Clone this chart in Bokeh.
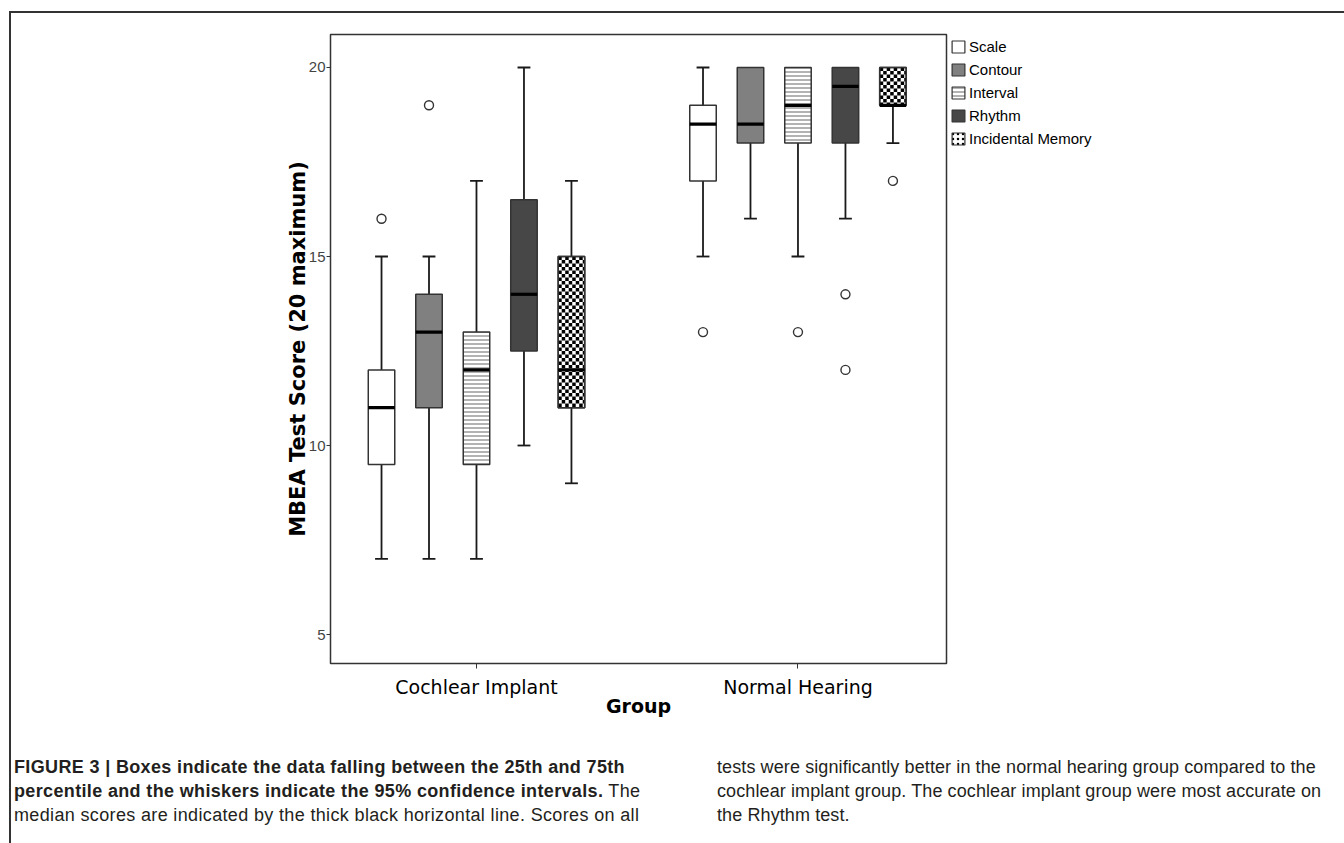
from bokeh.plotting import figure
from bokeh.layouts import column
from bokeh.models import (ColumnDataSource, Range1d, FixedTicker, Legend, LegendItem, Div)
from bokeh.embed import file_html
from bokeh.resources import INLINE

# ---------------- data ----------------
groups = ["Cochlear Implant", "Normal Hearing"]
tests = ["Scale", "Contour", "Interval", "Rhythm", "Incidental Memory"]

whisker_low = {"Cochlear Implant": [7, 7, 7, 10, 9], "Normal Hearing": [15, 16, 15, 16, 18]}
q1 = {"Cochlear Implant": [9.5, 11, 9.5, 12.5, 11], "Normal Hearing": [17, 18, 18, 18, 19]}
median = {"Cochlear Implant": [11, 13, 12, 14, 12], "Normal Hearing": [18.5, 18.5, 19, 19.5, 19]}
q3 = {"Cochlear Implant": [12, 14, 13, 16.5, 15], "Normal Hearing": [19, 20, 20, 20, 20]}
whisker_high = {"Cochlear Implant": [15, 15, 17, 20, 17], "Normal Hearing": [20, 20, 20, 20, 20]}

outlier_group = ["Cochlear Implant", "Cochlear Implant", "Normal Hearing", "Normal Hearing",
                 "Normal Hearing", "Normal Hearing", "Normal Hearing"]
outlier_test = ["Scale", "Contour", "Scale", "Interval", "Rhythm", "Rhythm", "Incidental Memory"]
outlier_value = [16, 19, 13, 13, 14, 12, 17]

y_ticks = [5, 10, 15, 20]

caption_bold = ["FIGURE 3 | Boxes indicate the data falling between the 25th and 75th",
                "percentile and the whiskers indicate the 95% confidence intervals."]
caption_left = ["The",
                "median scores are indicated by the thick black horizontal line. Scores on all"]
caption_right = ["tests were significantly better in the normal hearing group compared to the",
                 "cochlear implant group. The cochlear implant group were most accurate on",
                 "the Rhythm test."]

# ---------------- layout constants ----------------
group_pos = {g: i + 0.5 for i, g in enumerate(groups)}
spacing = 0.1477
box_w = 0.0824
cap_w = 0.040
cell_x = 0.01089   # checker cell size (data units)
cell_y = 0.0926
OFF_X, OFF_Y = 11, 13   # page offset of content (margin + border)


def xpos(g, t):
    return group_pos[g] + (tests.index(t) - 2) * spacing


styles = {
    "Scale": dict(fill_color="white"),
    "Contour": dict(fill_color="#808080"),
    "Interval": dict(fill_color="white", hatch_pattern="horizontal_line", hatch_color="#8a8a8a",
                     hatch_scale=4, hatch_weight=1.3),
    "Rhythm": dict(fill_color="#474747"),
    "Incidental Memory": dict(fill_color="white"),
}
legend_styles = dict(styles)
legend_styles["Incidental Memory"] = dict(fill_color="white", hatch_pattern="dot",
                                          hatch_color="black", hatch_scale=5, hatch_weight=4)

p = figure(frame_width=616, frame_height=629, output_backend="svg", toolbar_location=None,
           x_range=Range1d(0.0459, 1.962), y_range=Range1d(4.233, 20.873),
           min_border_left=330 - OFF_X, min_border_right=10, min_border_top=34 - OFF_Y,
           min_border_bottom=77)
p.xgrid.visible = False
p.ygrid.visible = False
p.outline_line_color = "#333333"
p.outline_line_width = 1.5

legend_items = []
for ti, t in enumerate(tests):
    xs = [xpos(g, t) for g in groups]
    lo = [whisker_low[g][ti] for g in groups]
    b1 = [q1[g][ti] for g in groups]
    md = [median[g][ti] for g in groups]
    b3 = [q3[g][ti] for g in groups]
    hi = [whisker_high[g][ti] for g in groups]

    # lower whiskers + caps
    p.segment(x0=xs, x1=xs, y0=lo, y1=b1, line_color="#1a1a1a", line_width=1.8)
    p.segment(x0=[x - cap_w / 2 for x in xs], x1=[x + cap_w / 2 for x in xs], y0=lo, y1=lo,
              line_color="#1a1a1a", line_width=1.8)
    # upper whiskers + caps where present
    ux = [x for x, h, q in zip(xs, hi, b3) if h > q]
    uh = [h for h, q in zip(hi, b3) if h > q]
    uq = [q for h, q in zip(hi, b3) if h > q]
    if ux:
        p.segment(x0=ux, x1=ux, y0=uq, y1=uh, line_color="#1a1a1a", line_width=1.8)
        p.segment(x0=[x - cap_w / 2 for x in ux], x1=[x + cap_w / 2 for x in ux], y0=uh, y1=uh,
                  line_color="#1a1a1a", line_width=1.8)

    src = ColumnDataSource(dict(x=xs, top=b3, bottom=b1))
    p.vbar(x="x", top="top", bottom="bottom", width=box_w, source=src,
           line_color="#333333", line_width=1.5, **styles[t])

    if t == "Incidental Memory":
        L, R, T, B = [], [], [], []
        for x, lo_b, hi_b in zip(xs, b1, b3):
            left_edge = x - box_w / 2
            right_edge = x + box_w / 2
            row = 0
            yb = hi_b
            while yb > lo_b + 1e-9:
                ye = max(yb - cell_y, lo_b)
                col = 0
                xl = left_edge
                while xl < right_edge - 1e-9:
                    xr = min(xl + cell_x, right_edge)
                    if (row + col) % 2 == 0:
                        L.append(xl); R.append(xr); T.append(yb); B.append(ye)
                    xl = xr
                    col += 1
                yb = ye
                row += 1
        p.quad(left=L, right=R, top=T, bottom=B, fill_color="black", line_color=None)
        p.vbar(x="x", top="top", bottom="bottom", width=box_w, source=src,
               line_color="#333333", line_width=1.5, fill_color=None)

    p.segment(x0=[x - box_w / 2 for x in xs], x1=[x + box_w / 2 for x in xs], y0=md, y1=md,
              line_color="black", line_width=3.2)

    # legend proxy (placed outside the visible range)
    proxy = p.vbar(x=[-5], top=[1], bottom=[0], width=box_w, line_color="#333333",
                   line_width=1.2, **legend_styles[t])
    legend_items.append(LegendItem(label=t, renderers=[proxy]))

# outliers
ox = [xpos(g, t) for g, t in zip(outlier_group, outlier_test)]
p.scatter(ox, outlier_value, marker="circle", size=9, fill_color="white",
          line_color="#333333", line_width=1.4)

# axes
p.yaxis.ticker = FixedTicker(ticks=y_ticks)
p.yaxis.minor_tick_line_color = None
p.yaxis.major_tick_out = 4
p.yaxis.major_tick_in = 0
p.yaxis.major_label_standoff = 1
p.yaxis.major_label_text_font = "Liberation Sans"
p.yaxis.major_label_text_font_size = "15px"
p.yaxis.major_label_text_color = "#444444"
p.yaxis.axis_line_color = "#333333"
p.yaxis.major_tick_line_color = "#333333"
p.yaxis.axis_label = "MBEA Test Score (20 maximum)"
p.yaxis.axis_label_text_font = "DejaVu Sans"
p.yaxis.axis_label_text_font_style = "bold"
p.yaxis.axis_label_text_font_size = "21px"
p.yaxis.axis_label_text_color = "black"
p.yaxis.axis_label_standoff = -4

p.xaxis.ticker = FixedTicker(ticks=[group_pos[g] for g in groups])
p.xaxis.major_label_overrides = {group_pos[g]: g for g in groups}
p.xaxis.minor_tick_line_color = None
p.xaxis.major_tick_out = 5
p.xaxis.major_tick_in = 0
p.xaxis.major_label_standoff = 7
p.xaxis.major_label_text_font = "DejaVu Sans"
p.xaxis.major_label_text_font_size = "19px"
p.xaxis.major_label_text_color = "black"
p.xaxis.axis_line_color = "#333333"
p.xaxis.major_tick_line_color = "#333333"
p.xaxis.axis_label = "Group"
p.xaxis.axis_label_text_font = "DejaVu Sans"
p.xaxis.axis_label_text_font_style = "bold"
p.xaxis.axis_label_text_font_size = "19px"
p.xaxis.axis_label_text_color = "black"
p.xaxis.axis_label_standoff = -6

legend = Legend(items=legend_items, location="top_left", margin=0, padding=4,
                glyph_width=16, glyph_height=15, label_height=15, spacing=6,
                label_standoff=3, label_text_font="Liberation Sans", label_text_font_size="15px",
                label_text_color="black", border_line_alpha=0, background_fill_alpha=0)
p.add_layout(legend, "right")

# ---------------- caption ----------------
cap_h = 843 - 740
box_style = ("position:relative;width:%dpx;height:%dpx;font-family:'Liberation Sans',Arial,sans-serif;"
             "font-size:18px;line-height:24px;color:#231f20;" % (1344 - OFF_X, cap_h))
col_style = "position:absolute;top:15px;white-space:nowrap;left:%dpx;letter-spacing:%spx;"
left_html = ("<b>%s</b><br><b>%s</b> %s<br>%s" %
             (caption_bold[0], caption_bold[1], caption_left[0], caption_left[1]))
right_html = "<br>".join(caption_right)
html = ('<div style="%s"><div style="%s">%s</div><div style="%s">%s</div></div>' %
        (box_style, col_style % (14 - OFF_X, "0.35"), left_html,
         col_style % (717 - OFF_X, "0.1"), right_html))
cap = Div(text=html, width=1344 - OFF_X, height=cap_h, margin=0)

layout = column(p, cap, margin=(11, 0, 0, 9),
                styles={"border-top": "2px solid #333333", "border-left": "2px solid #333333"})

open("out.html", "w").write(file_html(layout, INLINE))
